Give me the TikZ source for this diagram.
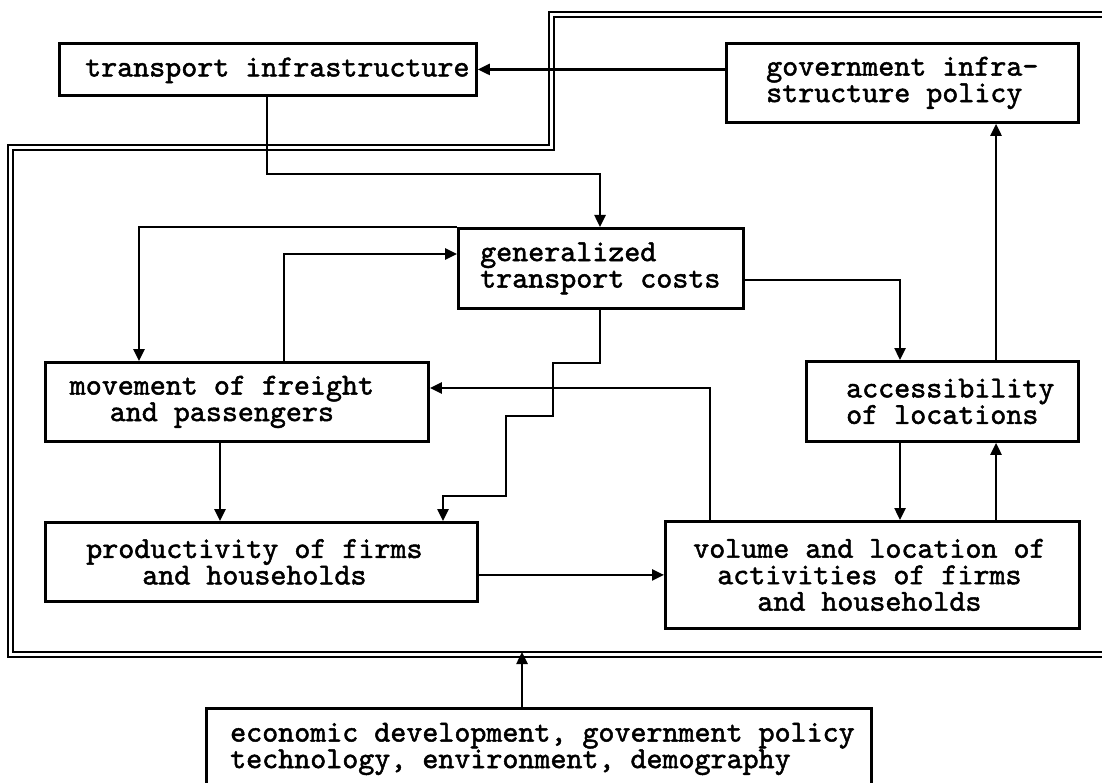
\documentclass[tikz,border=0pt]{standalone}
\usepackage{fontspec}
\newfontfamily\boxfont{lmmono10-regular}[Extension=.otf,FakeBold=1.6]
\usetikzlibrary{arrows.meta,calc}
\begin{document}
\begin{tikzpicture}[x=1pt,y=-1pt,
  box/.style={draw,line width=2.8pt,inner sep=0pt,anchor=north west},
  txt/.style={inner sep=0pt,font=\boxfont\fontsize{30.5}{26.5}\selectfont},
  link/.style={line width=2.5pt,-{Triangle[length=12pt,width=11pt]}},
  rim/.style={line width=2.6pt}
]
\useasboundingbox (0,0) rectangle (1102,783);
\clip (0,0) rectangle (1102,783);

% boxes
\node[box,minimum width=417pt,minimum height=52pt]  (tr) at (58,42)  {};
\node[box,minimum width=352pt,minimum height=79pt]  (gv) at (725,42) {};
\node[box,minimum width=285pt,minimum height=80pt]  (gc) at (457,227) {};
\node[box,minimum width=383pt,minimum height=79pt]  (mv) at (44,361) {};
\node[box,minimum width=272pt,minimum height=80pt]  (ac) at (805,360) {};
\node[box,minimum width=432pt,minimum height=79pt]  (pr) at (44,521) {};
\node[box,minimum width=414pt,minimum height=107pt] (vo) at (664,520) {};
\node[box,minimum width=665pt,minimum height=120pt] (ex) at (205,707) {};

% labels
\node[txt,anchor=west] at ($(tr.west)+(27,1)$) {transport infrastructure};
\node[txt,anchor=west,align=left] at ($(gv.west)+(41,0)$) {government infra-\\structure policy};
\node[txt,anchor=west,align=left] at ($(gc.west)+(23,0)$) {generalized\\transport costs};
\node[txt,align=center] at ($(mv.center)+(-15,0)$) {movement of freight\\and passengers};
\node[txt,anchor=west,align=left] at ($(ac.west)+(41,0)$) {accessibility\\of locations};
\node[txt,align=center] at ($(pr.center)+(-7,0)$) {productivity of firms\\and households};
\node[txt,align=center] at ($(vo.center)+(-3,0)$) {volume and location of\\activities of firms\\and households};
\node[txt,anchor=west,align=left] at ($(ex.north west)+(25,42)$) {economic development, government policy\\technology, environment, demography};

% double frame of the system
\draw[rim] (1110,657) -- (8,657) -- (8,145) -- (549,145) -- (549,12) -- (1110,12);
\draw[rim] (1110,652) -- (13,652) -- (13,150) -- (554,150) -- (554,17) -- (1110,17);
\coordinate (rimin) at (522,652);

% connectors
\draw[link] (gv.west |- tr.east) -- (tr.east);
\draw[link] ($(tr.south west)+(209,0)$) |- ($(gc.north west)+(143,-53)$) -- ($(gc.north west)+(143,0)$);
\draw[link] (gc.north west) -| ($(mv.north west)+(95,0)$);
\draw[link] ($(mv.north west)+(240,0)$) |- ($(gc.north west)+(0,27)$);
\draw[link] ($(vo.north west)+(46,0)$) |- ($(mv.north east)+(0,27)$);
\draw[link] ($(mv.south west)+(176,0)$) -- ($(pr.north west)+(176,0)$);
\draw[link] ($(gc.south west)+(143,0)$) -- ++(0,53) -- ++(-47,0) -- ++(0,53) -- ++(-47,0) -- ++(0,80) -- ++(-63,0) -- ($(pr.north west)+(399,0)$);
\draw[link] (pr.east |- vo.west) -- (vo.west);
\draw[link] ($(gc.north east)+(0,53)$) -| ($(ac.north west)+(95,0)$);
\draw[link] ($(ac.south west)+(95,0)$) -- ($(vo.north west)+(236,0)$);
\draw[link] ($(vo.north west)+(332,0)$) -- ($(ac.south west)+(191,0)$);
\draw[link] ($(ac.north west)+(191,0)$) -- ($(gv.south west)+(271,0)$);
\draw[link] (ex.north -| rimin) -- (rimin);
\end{tikzpicture}
\end{document}
